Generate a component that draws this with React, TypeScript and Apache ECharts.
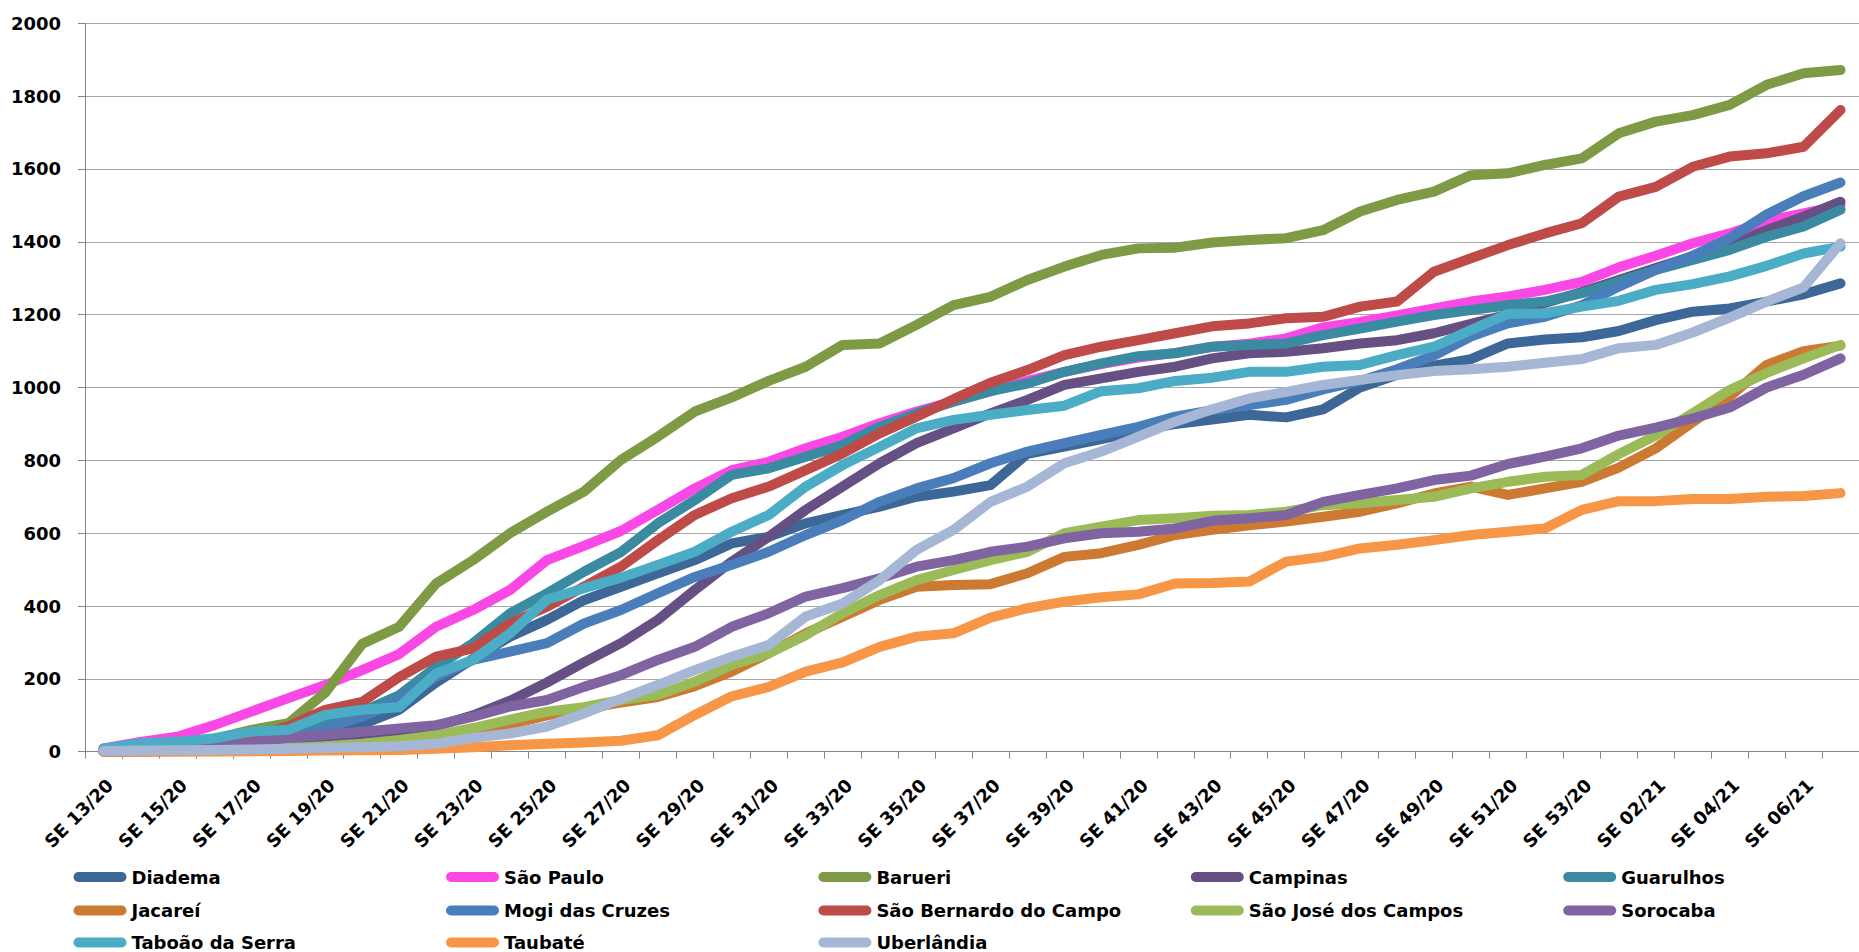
import React, { useEffect, useRef } from 'react';
import * as echarts from 'echarts';

const categories = [
  'SE 13/20', 'SE 14/20', 'SE 15/20', 'SE 16/20', 'SE 17/20', 'SE 18/20', 'SE 19/20', 'SE 20/20',
  'SE 21/20', 'SE 22/20', 'SE 23/20', 'SE 24/20', 'SE 25/20', 'SE 26/20', 'SE 27/20', 'SE 28/20',
  'SE 29/20', 'SE 30/20', 'SE 31/20', 'SE 32/20', 'SE 33/20', 'SE 34/20', 'SE 35/20', 'SE 36/20',
  'SE 37/20', 'SE 38/20', 'SE 39/20', 'SE 40/20', 'SE 41/20', 'SE 42/20', 'SE 43/20', 'SE 44/20',
  'SE 45/20', 'SE 46/20', 'SE 47/20', 'SE 48/20', 'SE 49/20', 'SE 50/20', 'SE 51/20', 'SE 52/20',
  'SE 53/20', 'SE 01/21', 'SE 02/21', 'SE 03/21', 'SE 04/21', 'SE 05/21', 'SE 06/21', 'SE 07/21',
];

const yTicks = { min: 0, max: 2000, interval: 200 };

const diadema = [1, 3, 6, 10, 15, 25, 45, 75, 115, 190, 255, 316, 362, 416, 453, 490, 526, 572, 590, 627, 650, 673, 700, 714, 732, 818, 838, 858, 880, 900, 912, 925, 918, 940, 1000, 1035, 1060, 1078, 1121, 1132, 1138, 1155, 1185, 1208, 1217, 1236, 1256, 1286];
const saoPaulo = [9, 27, 41, 73, 110, 147, 183, 224, 268, 343, 389, 444, 526, 565, 606, 664, 723, 773, 796, 833, 865, 902, 934, 962, 990, 1018, 1043, 1064, 1082, 1095, 1112, 1120, 1135, 1165, 1180, 1198, 1217, 1236, 1250, 1268, 1290, 1330, 1362, 1396, 1423, 1457, 1478, 1500];
const barueri = [2, 8, 18, 35, 60, 78, 162, 296, 343, 462, 526, 600, 659, 714, 801, 865, 934, 973, 1018, 1057, 1117, 1121, 1172, 1226, 1249, 1295, 1332, 1364, 1382, 1384, 1398, 1405, 1410, 1432, 1483, 1515, 1538, 1583, 1588, 1611, 1629, 1698, 1730, 1748, 1776, 1831, 1863, 1872];
const campinas = [0, 1, 2, 4, 8, 12, 20, 30, 48, 70, 100, 140, 190, 245, 298, 362, 444, 522, 590, 664, 728, 792, 847, 888, 929, 966, 1007, 1025, 1043, 1057, 1080, 1094, 1098, 1108, 1121, 1130, 1149, 1175, 1200, 1232, 1262, 1295, 1328, 1360, 1390, 1432, 1469, 1510];
const guarulhos = [3, 10, 15, 22, 40, 55, 85, 110, 155, 233, 298, 380, 435, 494, 548, 627, 691, 760, 778, 810, 842, 892, 929, 961, 990, 1011, 1043, 1066, 1086, 1094, 1112, 1117, 1121, 1144, 1162, 1181, 1199, 1213, 1226, 1236, 1259, 1290, 1323, 1350, 1378, 1414, 1442, 1488];
const jacarei = [0, 0, 1, 2, 3, 5, 8, 12, 20, 30, 50, 75, 100, 118, 135, 150, 180, 220, 270, 325, 371, 417, 453, 458, 460, 490, 535, 545, 568, 595, 609, 622, 632, 645, 659, 682, 709, 728, 705, 723, 741, 780, 833, 905, 975, 1062, 1100, 1115];
const mogi = [1, 2, 4, 8, 15, 30, 65, 96, 140, 205, 252, 275, 298, 352, 389, 435, 480, 513, 549, 595, 636, 686, 723, 751, 792, 824, 847, 870, 892, 920, 938, 952, 966, 995, 1018, 1050, 1088, 1140, 1176, 1194, 1226, 1277, 1323, 1362, 1410, 1475, 1525, 1563];
const saoBernardo = [1, 5, 10, 20, 40, 70, 115, 137, 205, 261, 284, 352, 398, 453, 508, 581, 650, 696, 728, 773, 819, 874, 920, 968, 1013, 1048, 1089, 1112, 1130, 1149, 1168, 1176, 1190, 1194, 1222, 1236, 1318, 1355, 1391, 1423, 1451, 1524, 1551, 1606, 1634, 1643, 1661, 1762];
const saoJose = [0, 1, 2, 3, 5, 10, 15, 22, 32, 45, 65, 88, 110, 122, 142, 156, 192, 238, 270, 320, 380, 430, 471, 499, 526, 549, 600, 618, 636, 641, 648, 650, 659, 677, 682, 691, 700, 723, 741, 755, 760, 817, 868, 929, 993, 1040, 1080, 1117];
const sorocaba = [0, 2, 5, 12, 25, 38, 46, 55, 64, 73, 96, 124, 142, 178, 210, 252, 288, 343, 380, 426, 449, 476, 508, 526, 549, 563, 586, 600, 604, 613, 634, 641, 650, 686, 705, 723, 746, 758, 790, 810, 833, 868, 890, 915, 945, 1000, 1035, 1080];
const taboao = [9, 23, 27, 37, 55, 60, 101, 115, 122, 215, 252, 325, 417, 449, 478, 513, 549, 604, 650, 728, 787, 837, 888, 911, 925, 938, 950, 990, 998, 1018, 1027, 1043, 1043, 1057, 1062, 1089, 1112, 1158, 1202, 1204, 1222, 1238, 1268, 1284, 1305, 1334, 1368, 1387];
const taubate = [0, 0, 0, 0, 1, 2, 3, 4, 5, 8, 12, 18, 22, 25, 30, 45, 101, 152, 178, 220, 245, 288, 316, 325, 368, 394, 412, 424, 432, 462, 463, 467, 522, 535, 558, 568, 581, 595, 604, 613, 664, 688, 688, 694, 694, 700, 702, 710];
const uberlandia = [2, 3, 4, 5, 6, 8, 10, 12, 15, 22, 38, 50, 69, 105, 145, 183, 224, 261, 293, 371, 407, 471, 554, 609, 686, 728, 792, 824, 865, 906, 940, 970, 988, 1007, 1021, 1034, 1045, 1050, 1057, 1068, 1078, 1108, 1117, 1151, 1192, 1236, 1275, 1396];

const seriesNames = [
  'Diadema', 'São Paulo', 'Barueri', 'Campinas', 'Guarulhos',
  'Jacareí', 'Mogi das Cruzes', 'São Bernardo do Campo', 'São José dos Campos', 'Sorocaba',
  'Taboão da Serra', 'Taubaté', 'Uberlândia',
];
const seriesColors = [
  '#3C6797', '#FA48E6', '#7E9A44', '#664F82', '#3A8BA2',
  '#CC7A32', '#4A7EBB', '#BE4B48', '#9BBB59', '#8064A2',
  '#4BACC6', '#F79646', '#A5B7D4',
];

export default function App() {
  const ref = useRef<HTMLDivElement>(null);
  useEffect(() => {
    if (!ref.current) return;
    const chart = echarts.init(ref.current, null, { renderer: 'svg' });
    const font = "'DejaVu Sans', sans-serif";
    const seriesData = [diadema, saoPaulo, barueri, campinas, guarulhos, jacarei, mogi, saoBernardo, saoJose, sorocaba, taboao, taubate, uberlandia];
    const legendCols = [73.5, 446, 818.4, 1190.8, 1563.2];
    const legendRows = [877, 910.5, 942.5];
    const icon = 'path://M5,0 L48,0 A5,5 0 0 1 48,10 L5,10 A5,5 0 0 1 5,0 Z';
    const legends = seriesNames.map((n, k) => ({
      data: [n],
      left: legendCols[k % 5],
      top: legendRows[Math.floor(k / 5)] - 10,
      orient: 'horizontal',
      padding: 0,
      itemWidth: 53,
      itemHeight: 10,
      icon,
      symbolKeepAspect: false,
      itemStyle: { borderWidth: 0 },
      selectedMode: false,
      textStyle: { fontFamily: font, fontWeight: 'bold', fontSize: 18, color: '#000', lineHeight: 20 },
    }));
    chart.setOption({
      animation: false,
      backgroundColor: '#fff',
      grid: { left: 85, top: 23.3, height: 728.4, width: 1792.4, containLabel: false },
      legend: legends,
      xAxis: {
        type: 'category',
        data: categories,
        boundaryGap: true,
        axisLine: { show: true, lineStyle: { color: '#868686', width: 1 } },
        axisTick: { show: true, interval: 0, length: 7, alignWithLabel: false, lineStyle: { color: '#868686' } },
        axisLabel: {
          interval: 0, rotate: 45, margin: 24, verticalAlign: 'top',
          formatter: (v: string, idx: number) => (idx % 2 === 0 && idx < categories.length - 1 ? v : ''),
          fontFamily: font, fontWeight: 'bold', fontSize: 18, color: '#000',
        },
        splitLine: { show: false },
      },
      yAxis: {
        type: 'value',
        min: yTicks.min, max: yTicks.max, interval: yTicks.interval,
        axisLine: { show: true, lineStyle: { color: '#868686', width: 1 } },
        axisTick: { show: true, length: 7, lineStyle: { color: '#868686' } },
        splitLine: { show: true, lineStyle: { color: '#A6A6A6', width: 1 } },
        axisLabel: {
          margin: 24, fontFamily: font, fontWeight: 'bold', fontSize: 18, color: '#000',
          formatter: (v: number) => String(v),
        },
      },
      series: seriesNames.map((n, k) => ({
        type: 'line',
        name: n,
        data: seriesData[k],
        showSymbol: false,
        symbol: 'none',
        silent: true,
        color: seriesColors[k],
        itemStyle: { color: seriesColors[k] },
        lineStyle: { width: 10, color: seriesColors[k], join: 'round', cap: 'round' },
        emphasis: { disabled: true },
      })),
    });
    return () => chart.dispose();
  }, []);
  return (
    <div
      ref={ref}
      style={{ position: 'fixed', left: 0, top: 0, width: 1859, height: 952, background: '#fff', overflow: 'hidden' }}
    />
  );
}
